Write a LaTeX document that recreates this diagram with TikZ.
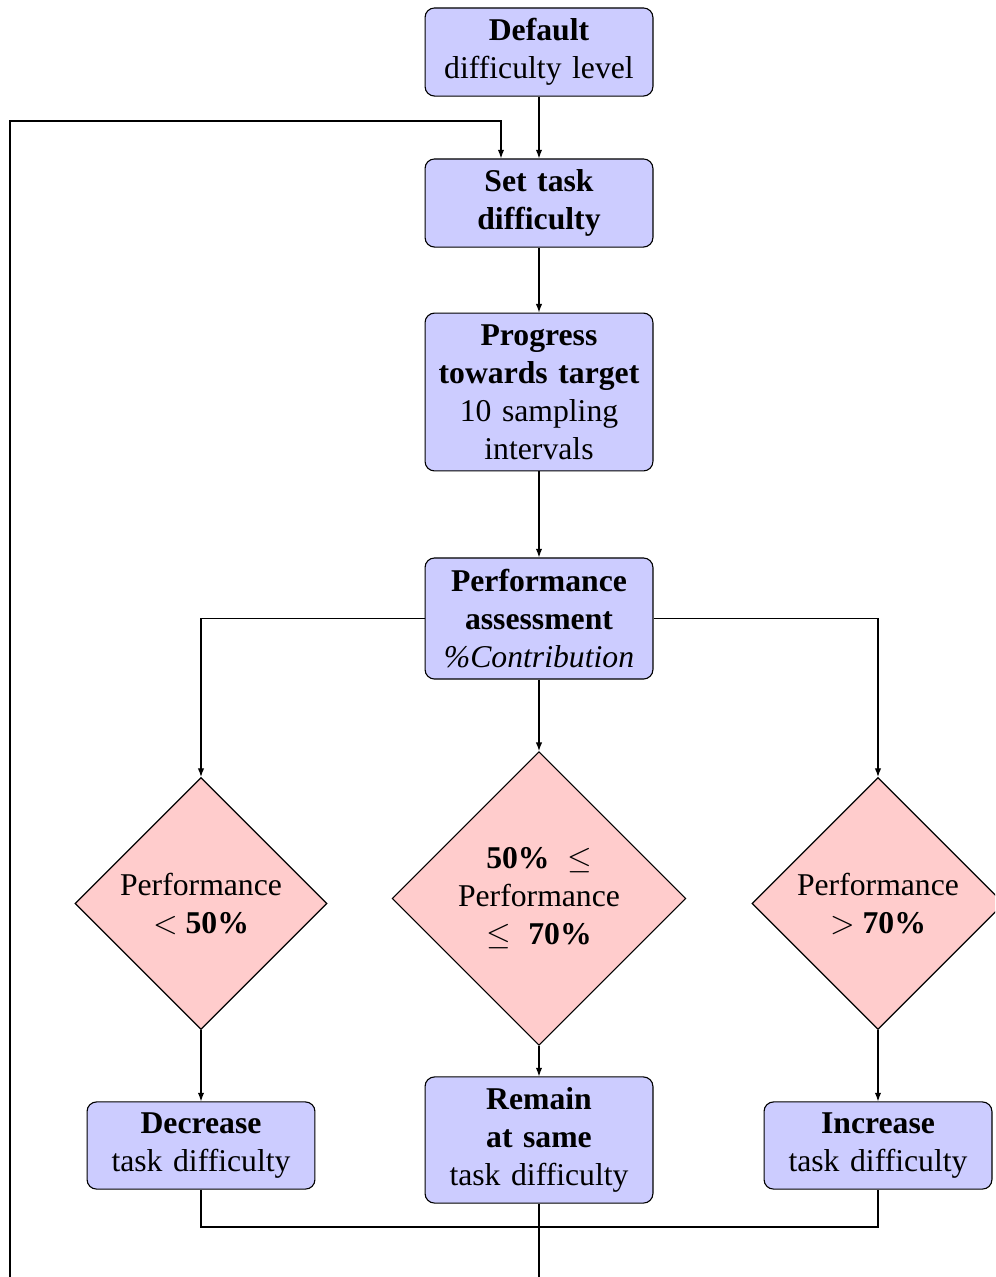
\documentclass[tikz,border=0pt]{standalone}
\usepackage{fontspec}
\setmainfont{Liberation Serif}
\usetikzlibrary{shapes.geometric,arrows.meta}

\tikzset{
  stepbox/.style={draw, fill=blue!20, rounded corners=3pt, align=center,
    text width=66pt, minimum width=71.9pt, inner sep=2.9pt, line width=0.35pt},
  decision/.style={draw, fill=red!20, diamond, aspect=1, align=center, inner sep=0pt,
    line width=0.35pt},
  arr/.style={-{Latex[length=2.7pt,width=2pt]}},
  link/.style={line width=0.35pt}
}

\begin{document}
\begin{tikzpicture}[x=0.3155pt,y=-0.3155pt]
  \useasboundingbox (0,0) rectangle (995,1277);
  \clip (0,0) rectangle (995,1277);

  % process boxes
  \node[stepbox, minimum height=27.8pt] (def) at (539,52)
    {\textbf{Default}\\difficulty level};
  \node[stepbox, minimum height=27.8pt] (set) at (539,203)
    {\textbf{Set task}\\\textbf{difficulty}};
  \node[stepbox, minimum height=49.8pt] (prog) at (539,392)
    {\textbf{Progress}\\\textbf{towards target}\\10 sampling\\intervals};
  \node[stepbox, minimum height=38.2pt] (perf) at (539,618.5)
    {\textbf{Performance}\\\textbf{assessment}\\\textit{\%Contribution}};

  % decisions
  \node[decision, minimum width=79.5pt, minimum height=79.5pt] (dl) at (201,903.5)
    {Performance\\$<$ \textbf{50\%}};
  \node[decision, minimum width=92.7pt, minimum height=92.7pt] (dm) at (539,898.5)
    {\textbf{50\%}\hspace{5.5pt}$\leq$\\Performance\\$\leq$\hspace{5.5pt}\textbf{70\%}};
  \node[decision, minimum width=79.5pt, minimum height=79.5pt] (dr) at (878,903.5)
    {Performance\\$>$ \textbf{70\%}};

  % outcomes
  \node[stepbox, minimum height=27.5pt] (dec) at (201,1145.5)
    {\textbf{Decrease}\\task difficulty};
  \node[stepbox, minimum height=39.8pt] (rem) at (539,1140)
    {\textbf{Remain}\\\textbf{at same}\\task difficulty};
  \node[stepbox, minimum height=27.5pt] (inc) at (878,1145.5)
    {\textbf{Increase}\\task difficulty};

  % free ends of the loop back
  \coordinate (join) at (539,1227);
  \coordinate (bot) at (539,1277);
  \coordinate (fbB) at (10,1277);
  \coordinate (fbT) at (10,121);
  \coordinate (fbE) at (501,121);

  % connectors
  \draw[link, arr] (def) -- (set);
  \draw[link, arr] (set) -- (prog);
  \draw[link, arr] (prog) -- (perf);
  \draw[link, arr] (perf.west) -| (dl.north);
  \draw[link, arr] (perf) -- (dm);
  \draw[link, arr] (perf.east) -| (dr.north);
  \draw[link, arr] (dl) -- (dec);
  \draw[link, arr] (dm) -- (rem);
  \draw[link, arr] (dr) -- (inc);
  \draw[link] (dec.south) |- (join) -| (inc.south);
  \draw[link] (rem.south) -- (bot);
  \draw[link, arr] (fbB) -- (fbT) -- (fbE) -- (fbE |- set.north);
\end{tikzpicture}
\end{document}
